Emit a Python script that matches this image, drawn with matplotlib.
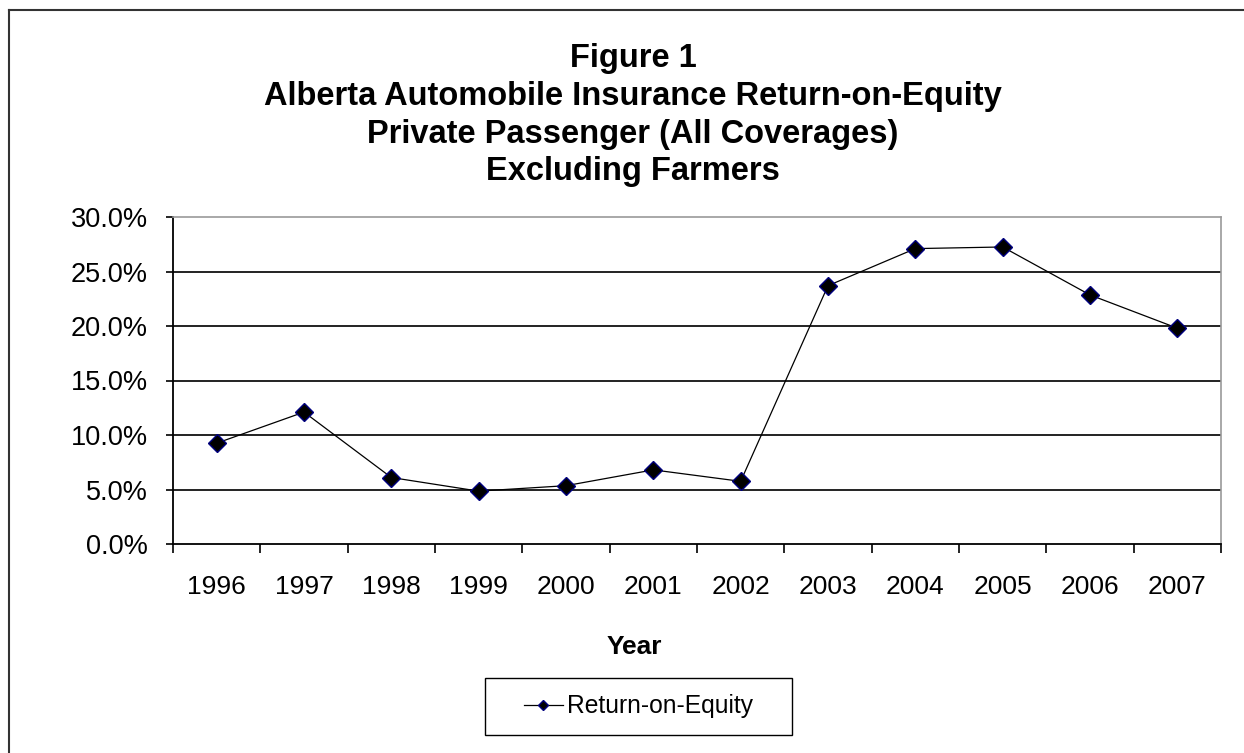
import matplotlib.pyplot as plt
from matplotlib.lines import Line2D
from matplotlib.patches import Rectangle
from matplotlib.ticker import FixedLocator, NullFormatter
import numpy as np

years = ['1996', '1997', '1998', '1999', '2000', '2001',
         '2002', '2003', '2004', '2005', '2006', '2007']
roe = [9.25, 12.1, 6.1, 4.85, 5.35, 6.8, 5.75, 23.7, 27.1, 27.25, 22.85, 19.8]
yticks = [0, 5, 10, 15, 20, 25, 30]
title_lines = ['Figure 1',
               'Alberta Automobile Insurance Return-on-Equity',
               'Private Passenger (All Coverages)',
               'Excluding Farmers']

plt.rcParams['font.family'] = ['Liberation Sans', 'DejaVu Sans']

W, H = 1244, 753
fig = plt.figure(figsize=(W / 100, H / 100), dpi=100)
ax = fig.add_axes([173 / W, 1 - 544 / H, (1221 - 173) / W, (544 - 217) / H])

x = np.arange(len(years))
ax.plot(x, roe, color='black', linewidth=0.9, marker='D', markersize=8.7,
        markerfacecolor='black', markeredgecolor='#000080', markeredgewidth=1,
        label='Return-on-Equity', zorder=3)

ax.set_xlim(-0.5, len(years) - 0.5)
ax.set_ylim(0, 30)

# ticks at category boundaries, labels at centres
ax.xaxis.set_major_locator(FixedLocator(np.arange(len(years) + 1) - 0.5))
ax.xaxis.set_major_formatter(NullFormatter())
ax.xaxis.set_minor_locator(FixedLocator(x))
ax.set_xticklabels(years, minor=True)
ax.tick_params(axis='x', which='major', direction='out', length=6.5, width=1.2, color='black')
ax.tick_params(axis='x', which='minor', length=0, pad=22, labelsize=19)

ax.set_yticks(yticks)
ax.set_yticklabels([f'{v:.1f}%' for v in yticks])
ax.tick_params(axis='y', direction='out', length=5, width=1.2, labelsize=19.5, pad=13)

for v in yticks[1:-1]:
    ax.axhline(v, color='#111111', linewidth=1.3, zorder=1)

ax.spines['left'].set_linewidth(1.3)
ax.spines['bottom'].set_linewidth(1.3)
for s in ('top', 'right'):
    ax.spines[s].set_color('#9a9a9a')
    ax.spines[s].set_linewidth(1.2)

# title, one line at a time (baselines in pixels)
for txt, yb in zip(title_lines, [67.5, 105, 142.5, 180]):
    fig.text(633 / W, 1 - yb / H, txt, ha='center', va='baseline',
             fontsize=23.5, fontweight='bold')

fig.text(634 / W, 1 - 654 / H, 'Year', ha='center', va='baseline',
         fontsize=19, fontweight='bold')

leg = fig.legend(loc='center', bbox_to_anchor=(639 / W, 1 - 706.5 / H),
                 fontsize=17.7, frameon=False, handlelength=1.55,
                 handletextpad=0.2, borderpad=0, borderaxespad=0)
for h in leg.legend_handles:
    h.set_markersize(5.2)
# legend box is wider than the entry
fig.add_artist(Rectangle((485 / W, 1 - 735 / H), (792 - 485) / W, (735 - 678) / H,
                         transform=fig.transFigure, fill=False,
                         edgecolor='black', linewidth=1))

# chart outer border (left and top visible)
fig.add_artist(Line2D([9 / W, 9 / W], [0, 1 - 10 / H], transform=fig.transFigure,
                      color='#333333', linewidth=1.5))
fig.add_artist(Line2D([9 / W, 1], [1 - 10 / H, 1 - 10 / H], transform=fig.transFigure,
                      color='#333333', linewidth=1.5))

fig.savefig('out.png', dpi=100)
